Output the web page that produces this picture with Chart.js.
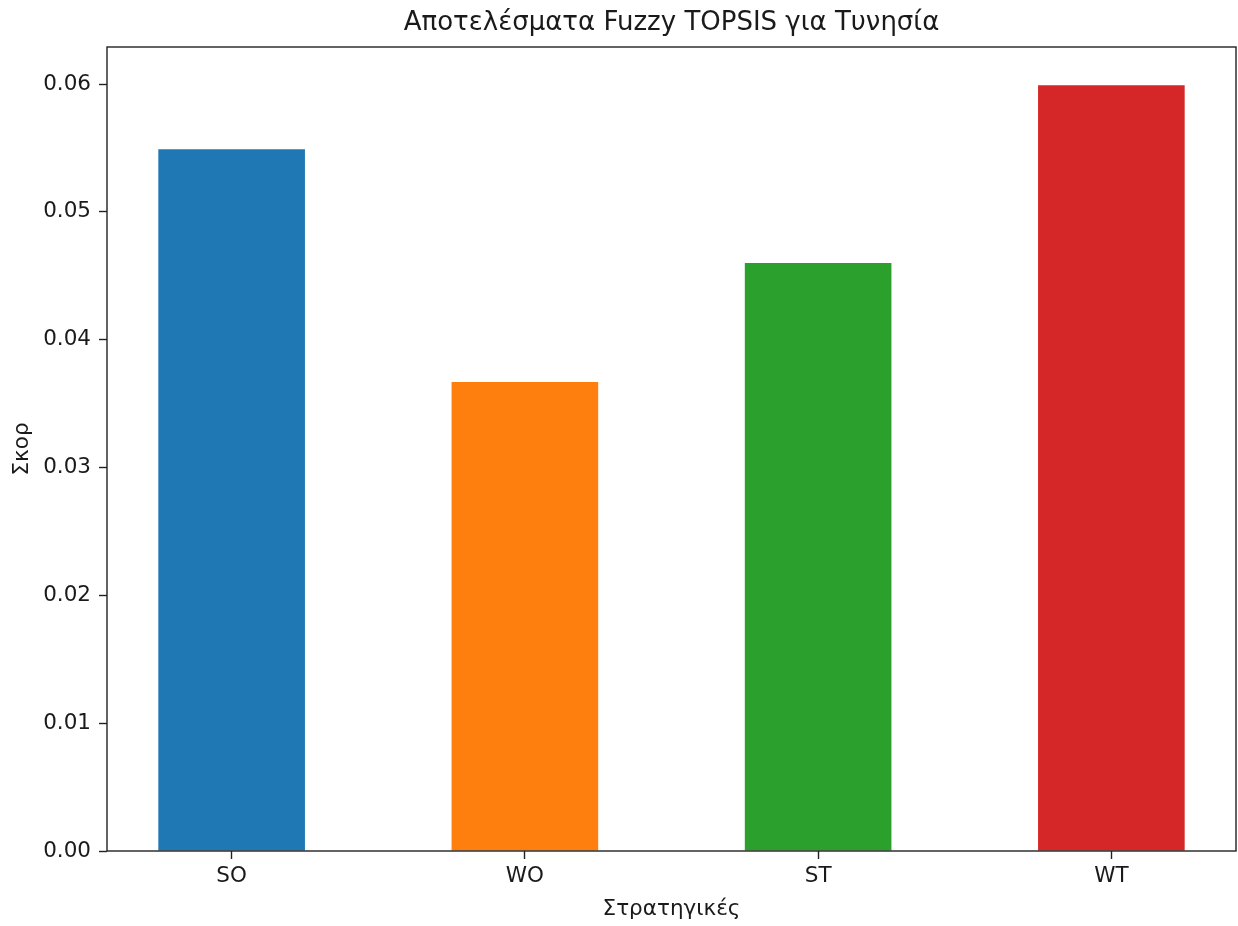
<!DOCTYPE html>
<html>
<head>
<meta charset="utf-8">
<script src="https://cdn.jsdelivr.net/npm/chart.js@4/dist/chart.umd.min.js"></script>
<style>
  body { margin: 0; background: #fff; }
  canvas { display: block; }
</style>
</head>
<body>
<canvas id="chart" width="1238" height="926"></canvas>
<script>
const strategies = ['SO', 'WO', 'ST', 'WT'];
const scores = [0.0549, 0.0367, 0.0460, 0.0599];
const barColors = ['#1f77b4', '#ff7f0e', '#2ca02c', '#d62728'];
const yTicks = [0, 0.01, 0.02, 0.03, 0.04, 0.05, 0.06];

const ink = '#1a1a1a';
Chart.defaults.font.family = '"DejaVu Sans", sans-serif';
Chart.defaults.color = ink;

// matplotlib style box around the plot, title centred on the axes
const frame = {
  id: 'frame',
  afterLayout(chart) {
    if (chart.titleBlock) {
      chart.titleBlock.left = chart.chartArea.left;
      chart.titleBlock.right = chart.chartArea.right;
    }
  },
  afterDatasetsDraw(chart) {
    const { ctx, chartArea: a } = chart;
    ctx.save();
    ctx.strokeStyle = '#222';
    ctx.lineWidth = 1.4;
    ctx.strokeRect(a.left, a.top, a.right - a.left, a.bottom - a.top);
    ctx.restore();
  }
};

new Chart(document.getElementById('chart'), {
  type: 'bar',
  data: {
    datasets: [{
      data: strategies.map((s, i) => ({ x: i, y: scores[i] })),
      backgroundColor: barColors,
      borderWidth: 0,
      barPercentage: 0.5,
      categoryPercentage: 1
    }]
  },
  options: {
    responsive: false,
    animation: false,
    layout: { padding: { right: 2 } },
    plugins: {
      legend: { display: false },
      tooltip: { enabled: false },
      title: {
        display: true,
        text: 'Αποτελέσματα Fuzzy TOPSIS για Τυνησία',
        color: ink,
        font: { size: 26, weight: 'normal' },
        padding: { top: 8, bottom: 7.8 }
      }
    },
    scales: {
      x: {
        type: 'linear',
        min: -0.425,
        max: 3.425,
        offset: false,
        afterBuildTicks: (scale) => { scale.ticks = strategies.map((s, i) => ({ value: i })); },
        afterFit: (scale) => { scale.height = 75; },
        ticks: {
          callback: (v) => strategies[v],
          font: { size: 21.5 },
          padding: 5,
          maxRotation: 0
        },
        grid: { offset: false, drawOnChartArea: false, tickLength: 8, tickColor: '#222', tickWidth: 1.4 },
        border: { display: false },
        title: {
          display: true,
          text: 'Στρατηγικές',
          font: { size: 21.5 },
          padding: { top: 0, bottom: 3.5 }
        }
      },
      y: {
        min: 0,
        max: 0.0629,
        afterBuildTicks: (scale) => { scale.ticks = yTicks.map(v => ({ value: v })); },
        afterFit: (scale) => { scale.width = 107; },
        ticks: {
          callback: (v) => v.toFixed(2),
          font: { size: 21.5 },
          padding: 8
        },
        grid: { drawOnChartArea: false, tickLength: 8, tickColor: '#222', tickWidth: 1.4 },
        border: { display: false },
        title: {
          display: true,
          text: 'Σκορ',
          font: { size: 21.5 },
          padding: { top: 10, bottom: 0 }
        }
      }
    }
  },
  plugins: [frame]
});
</script>
</body>
</html>
